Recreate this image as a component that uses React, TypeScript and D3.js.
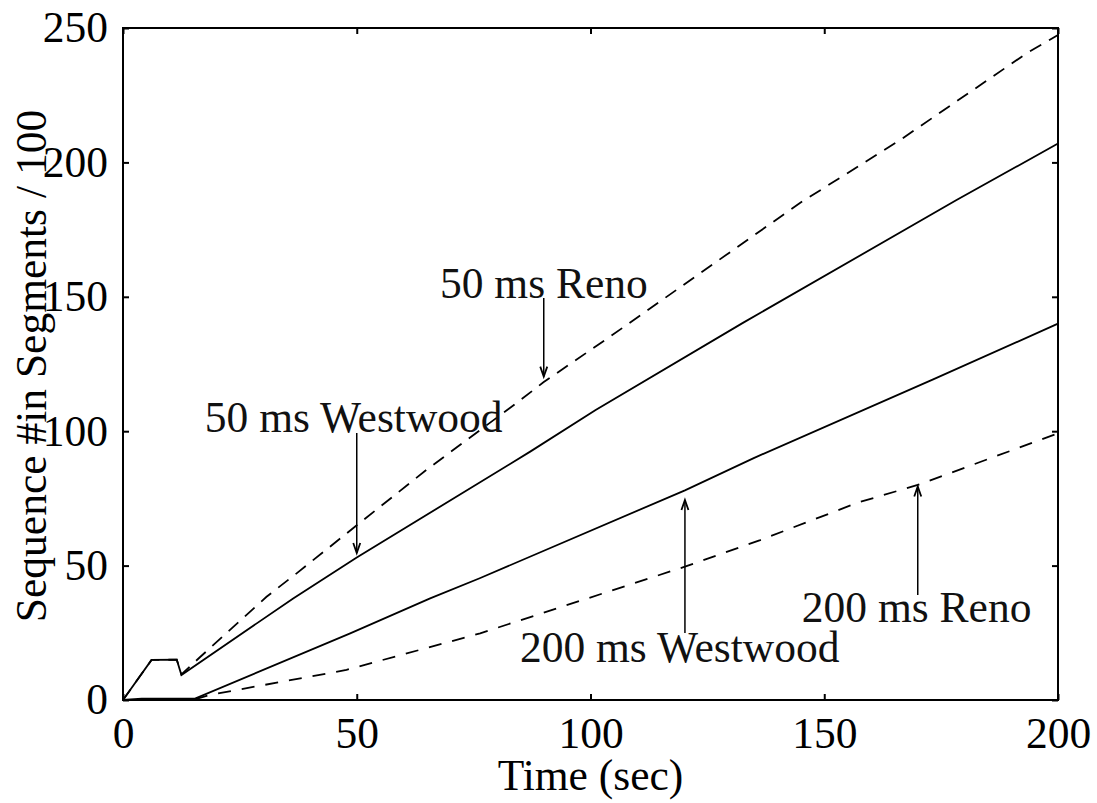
import React, { useRef, useEffect } from 'react'
import * as d3 from 'd3'

// values (time in sec, sequence # in segments / 100)
const time50Westwood = [0, 6.1, 11.5, 12.5, 36.4, 50, 87.1, 101.1, 132.6, 178.3, 200]
const seq50Westwood = [0, 14.9, 15, 9.3, 37.8, 53, 92.4, 107.9, 140.3, 186, 207]

const time50Reno = [0, 6.1, 11.5, 12.5, 16.5, 30.7, 37.2, 50, 64.9, 84.2, 90, 104.2, 144.8, 166.2, 193.3, 200]
const seq50Reno = [0, 14.9, 15, 9.5, 16, 38.4, 47.2, 65, 85.6, 110.5, 118.3, 135.2, 184.9, 208.3, 240.6, 247.4]

const time200Westwood = [0, 4, 12, 15.4, 48.6, 65.7, 76.3, 120.2, 134.8, 173.3, 200]
const seq200Westwood = [0, 0.5, 0.5, 0.5, 24.8, 37.8, 45.3, 78, 89.9, 119.3, 140]

const time200Reno = [0, 15, 18.6, 47.8, 76.4, 120.2, 136.3, 157.3, 170, 200]
const seq200Reno = [0, 0, 1.9, 11.2, 24.8, 49.6, 59.5, 73.5, 80, 99.2]

const xTicks = [0, 50, 100, 150, 200]
const yTicks = [0, 50, 100, 150, 200, 250]

// annotation labels with their arrows (data coords)
const labelTexts = ['50 ms Reno', '50 ms Westwood', '200 ms Westwood', '200 ms Reno']
const labelX = [67.8, 17.5, 84.9, 145.2]
const labelY = [149.6, 99.8, 14.2, 29.1]
const arrowX = [90, 50, 120.2, 170]
const arrowFrom = [149.6, 99.3, 24.9, 39.1]
const arrowTo = [120.3, 54.7, 74.4, 79.4]

const FONT = '"Liberation Serif", "Times New Roman", serif'
const FONT_SIZE = '43.5px'

const App = () => {
  const svgRef = useRef<SVGSVGElement>(null)

  useEffect(() => {
    const svg = d3.select(svgRef.current)
    svg.selectAll('*').remove()

    const width = 1097
    const height = 803
    const margin = { top: 28, right: 39, bottom: 103, left: 123 }

    svg.attr('width', width).attr('height', height)

    const x = d3.scaleLinear().domain([0, 200]).range([margin.left, width - margin.right])
    const y = d3.scaleLinear().domain([0, 250]).range([height - margin.bottom, margin.top])

    // frame
    svg
      .append('rect')
      .attr('x', x(0))
      .attr('y', y(250))
      .attr('width', x(200) - x(0))
      .attr('height', y(0) - y(250))
      .attr('fill', 'none')
      .attr('stroke', '#000')
      .attr('stroke-width', 2)

    const styleAxis = (g: any) => {
      g.select('.domain').remove()
      g.selectAll('line').attr('stroke', '#000').attr('stroke-width', 2)
      g.selectAll('text').attr('fill', '#000').style('font-family', FONT).style('font-size', FONT_SIZE)
    }

    svg
      .append('g')
      .attr('transform', `translate(0, ${y(0)})`)
      .call(d3.axisBottom(x).tickValues(xTicks).tickSizeInner(-6).tickSizeOuter(0).tickPadding(17))
      .call(styleAxis)

    svg
      .append('g')
      .attr('transform', `translate(0, ${y(250)})`)
      .call(d3.axisTop(x).tickValues(xTicks).tickSizeInner(-6).tickSizeOuter(0).tickFormat(() => ''))
      .call(styleAxis)

    svg
      .append('g')
      .attr('transform', `translate(${x(0)}, 0)`)
      .call(d3.axisLeft(y).tickValues(yTicks).tickSizeInner(-6).tickSizeOuter(0).tickPadding(15))
      .call(styleAxis)

    svg
      .append('g')
      .attr('transform', `translate(${x(200)}, 0)`)
      .call(d3.axisRight(y).tickValues(yTicks).tickSizeInner(-6).tickSizeOuter(0).tickFormat(() => ''))
      .call(styleAxis)

    // axis titles
    svg
      .append('text')
      .attr('x', (x(0) + x(200)) / 2)
      .attr('y', 790)
      .attr('text-anchor', 'middle')
      .style('font-family', FONT)
      .style('font-size', FONT_SIZE)
      .attr('fill', '#000')
      .text('Time (sec)')

    svg
      .append('text')
      .attr('transform', `translate(46, ${(y(0) + y(250)) / 2 + 2}) rotate(-90)`)
      .attr('text-anchor', 'middle')
      .style('font-family', FONT)
      .style('font-size', FONT_SIZE)
      .attr('fill', '#000')
      .text('Sequence #in Segments / 100')

    // series
    const series = [
      { t: time50Reno, v: seq50Reno, dash: '13,9' },
      { t: time200Reno, v: seq200Reno, dash: '13,11' },
      { t: time50Westwood, v: seq50Westwood, dash: null },
      { t: time200Westwood, v: seq200Westwood, dash: null },
    ]

    const line = d3
      .line<[number, number]>()
      .x(d => x(d[0]))
      .y(d => y(d[1]))
      .curve(d3.curveLinear)

    series.forEach(s => {
      const pts: [number, number][] = s.t.map((t, i) => [t, s.v[i]])
      svg
        .append('path')
        .datum(pts)
        .attr('fill', 'none')
        .attr('stroke', '#000')
        .attr('stroke-width', 1.8)
        .attr('stroke-dasharray', s.dash)
        .attr('d', line)
    })

    // annotations
    labelTexts.forEach((label, i) => {
      svg
        .append('text')
        .attr('x', x(labelX[i]))
        .attr('y', y(labelY[i]))
        .style('font-family', FONT)
        .style('font-size', FONT_SIZE)
        .attr('fill', '#111')
        .text(label)

      const ax = x(arrowX[i])
      const y0 = y(arrowFrom[i])
      const y1 = y(arrowTo[i])
      const dir = y1 > y0 ? 1 : -1
      svg
        .append('line')
        .attr('x1', ax)
        .attr('x2', ax)
        .attr('y1', y0)
        .attr('y2', y1)
        .attr('stroke', '#000')
        .attr('stroke-width', 1.5)
      svg
        .append('path')
        .attr('d', `M${ax - 3.5},${y1 - dir * 10} L${ax},${y1} L${ax + 3.5},${y1 - dir * 10}`)
        .attr('fill', 'none')
        .attr('stroke', '#000')
        .attr('stroke-width', 1.8)
    })
  }, [])

  return (
    <svg
      ref={svgRef}
      style={{ position: 'absolute', left: 0, top: 0, background: '#fff' }}
    ></svg>
  )
}

export default App
